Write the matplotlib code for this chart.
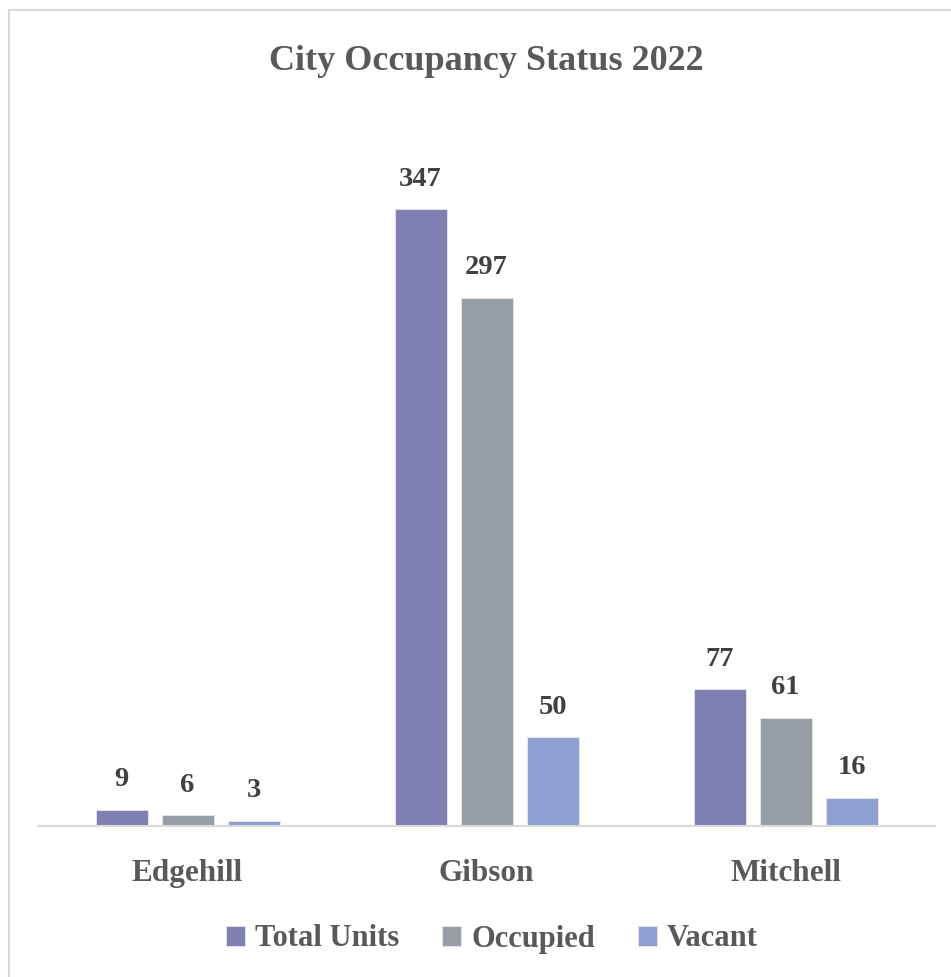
import numpy as np
import matplotlib.pyplot as plt
from matplotlib.patches import Rectangle

# datos del grafico
barrios = ["Edgehill", "Gibson", "Mitchell"]
total_units = [9, 347, 77]
occupied = [6, 297, 61]
vacant = [3, 50, 16]
series = ["Total Units", "Occupied", "Vacant"]
colores = ["#7F7FB3", "#979DA5", "#8F9FD1"]

plt.rcParams['font.family'] = ['Liberation Serif', 'DejaVu Serif']
plt.rcParams['font.weight'] = 'bold'

W, H = 951, 977
fig = plt.figure(figsize=(W / 100, H / 100), dpi=100)
ax = fig.add_axes([38 / W, 1 - 826 / H, 897 / W, 711 / H])

x = np.arange(len(barrios))
ancho = 52 / 299
paso = 66 / 299
valores = [total_units, occupied, vacant]
for i, (vals, nombre, c) in enumerate(zip(valores, series, colores)):
    barras = ax.bar(x + (i - 1) * paso, vals, ancho, color=c, label=nombre,
                    edgecolor="#E8E8F0", linewidth=0.6)
    for b, v in zip(barras, vals):
        ax.annotate(str(v), (b.get_x() + b.get_width() / 2, v),
                    xytext=(0, 17), textcoords="offset points",
                    ha="center", va="baseline", fontsize=20.5,
                    fontweight="bold", color="#404040")

ax.set_xlim(-0.5, 2.5)
ax.set_ylim(0, 400)
ax.set_yticks([])
ax.set_xticks(x)
ax.set_xticklabels(barrios, fontsize=22.5, fontweight="bold", color="#595959")
ax.tick_params(axis="x", length=0, pad=23.5)
for s in ["top", "right", "left"]:
    ax.spines[s].set_visible(False)
ax.spines["bottom"].set_color("#D9D9D9")
ax.spines["bottom"].set_linewidth(1.5)

fig.text(486 / W, 1 - 70 / H, "City Occupancy Status 2022", ha="center",
         va="baseline", fontsize=26, fontweight="bold", color="#595959")

fig.legend(loc="center", bbox_to_anchor=(492 / W, 1 - 939 / H), ncol=3,
           frameon=False, prop={"size": 22, "weight": "bold"},
           handlelength=0.62, handleheight=0.62, handletextpad=0.33,
           columnspacing=1.4, labelcolor="#595959")

# marco exterior
fig.patches.append(Rectangle((9 / W, -0.05), 1.0, 1 - 10 / H + 0.05,
                             transform=fig.transFigure, fill=False,
                             edgecolor="#D9D9D9", linewidth=1.5))

fig.savefig("out.png", dpi=100)
